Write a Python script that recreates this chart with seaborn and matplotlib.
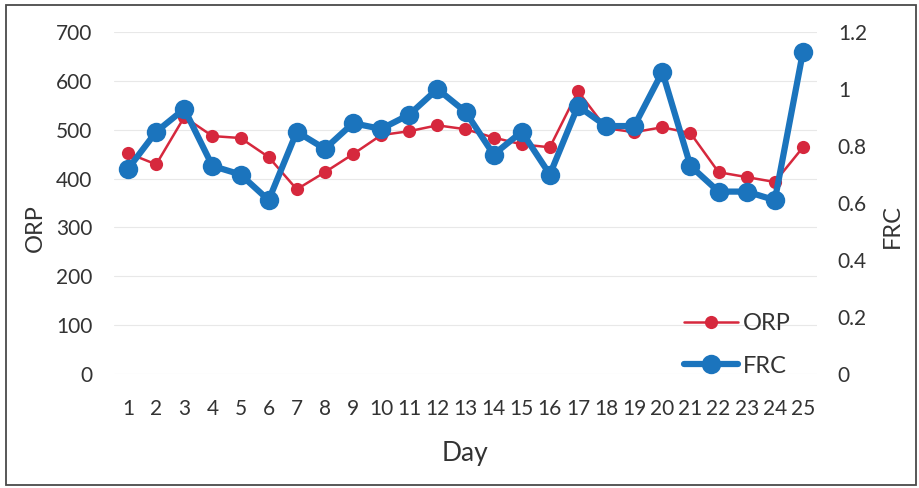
import matplotlib
matplotlib.use("Agg")
import matplotlib.pyplot as plt
import seaborn as sns
from matplotlib.lines import Line2D
from matplotlib.patches import Rectangle

# Daily readings
days = list(range(1, 26))
orp = [452, 429, 526, 487, 483, 444, 378, 413, 450, 489, 497, 509, 501,
       484, 470, 464, 579, 503, 495, 505, 493, 413, 403, 393, 464]
frc = [0.72, 0.85, 0.93, 0.73, 0.70, 0.61, 0.85, 0.79, 0.88, 0.86, 0.91,
       1.00, 0.92, 0.77, 0.85, 0.70, 0.94, 0.87, 0.87, 1.06, 0.73, 0.64,
       0.64, 0.61, 1.13]

orp_ticks = [0, 100, 200, 300, 400, 500, 600, 700]
frc_ticks = [0, 0.2, 0.4, 0.6, 0.8, 1.0, 1.2]
frc_tick_labels = ["0", "0.2", "0.4", "0.6", "0.8", "1", "1.2"]

RED = "#D6283D"
BLUE = "#1B74BD"
TEXT = "#333333"

sns.set_theme(style="white")
plt.rcParams["font.family"] = ["Lato", "DejaVu Sans"]

fig = plt.figure(figsize=(9.2, 4.88), dpi=100)
fig.patch.set_facecolor("white")
ax = fig.add_axes([114 / 920, 1 - 374 / 488, 703 / 920, 342 / 488])

sns.lineplot(x=days, y=orp, ax=ax, color=RED, linewidth=1.8, marker="o",
             markersize=9.5, markeredgewidth=0, zorder=3)
ax.set_xlim(0.5, 25.5)
ax.set_ylim(0, 700)
ax.set_yticks(orp_ticks)
ax.set_xticks(days)
ax.set_xticklabels([str(d) for d in days])
ax.yaxis.grid(True, color="#e8e8e8", linewidth=0.8)
ax.set_axisbelow(True)
ax.set_xlabel("")
ax.set_ylabel("")
ax.tick_params(axis="y", length=0, pad=15.5, labelsize=15, labelcolor=TEXT)
ax.tick_params(axis="x", length=0, pad=18, labelsize=15, labelcolor=TEXT)

ax2 = ax.twinx()
sns.lineplot(x=days, y=frc, ax=ax2, color=BLUE, linewidth=4.5, marker="o",
             markersize=14, markeredgewidth=0, zorder=4)
ax2.set_ylim(0, 1.2)
ax2.set_yticks(frc_ticks)
ax2.set_yticklabels(frc_tick_labels)
ax2.set_ylabel("")
ax2.tick_params(axis="y", length=0, pad=15, labelsize=15, labelcolor=TEXT)

for a in (ax, ax2):
    for s in a.spines.values():
        s.set_visible(False)

fig.text(35 / 920, 1 - 228 / 488, "ORP", rotation=90, ha="center",
         va="center", fontsize=17, color=TEXT)
fig.text(892 / 920, 1 - 226 / 488, "FRC", rotation=90, ha="center",
         va="center", fontsize=17, color=TEXT)
fig.text(465 / 920, 1 - 453 / 488, "Day", ha="center", va="center",
         fontsize=19, color=TEXT)

handles = [
    Line2D([], [], color=RED, linewidth=1.8, marker="o", markersize=9.5,
           markeredgewidth=0),
    Line2D([], [], color=BLUE, linewidth=4.5, marker="o", markersize=14,
           markeredgewidth=0),
]
fig.legend(handles, ["ORP", "FRC"], loc="upper left",
           bbox_to_anchor=(684 / 920, 1 - 313 / 488), frameon=False,
           fontsize=17, handlelength=2.3, handletextpad=0.2,
           labelspacing=0.92, borderpad=0, borderaxespad=0,
           labelcolor=TEXT)

fig.patches.append(Rectangle((6 / 920, 1 - 485 / 488), 910 / 920, 480 / 488,
                             transform=fig.transFigure, fill=False,
                             edgecolor="#4a4a4a", linewidth=1.3))

fig.savefig("out.png", dpi=100, facecolor="white")
